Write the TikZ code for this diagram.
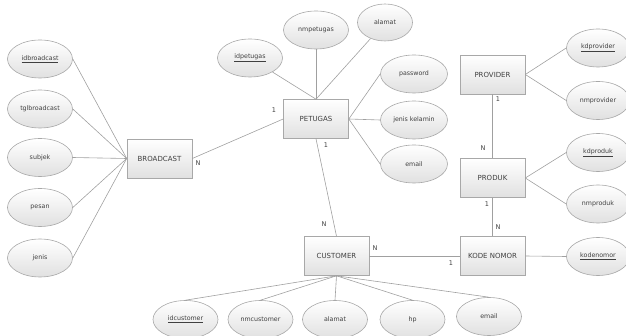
\documentclass[tikz,border=0pt]{standalone}
\usepackage{fontspec}
\setmainfont{DejaVu Sans}
\usetikzlibrary{shapes.geometric}
\definecolor{edgec}{HTML}{A8A8A8}
\definecolor{linec}{HTML}{A0A0A0}
\definecolor{txtc}{HTML}{404040}
\begin{document}
\begin{tikzpicture}[x=1pt,y=-1pt,
  entity/.style={draw=edgec, line width=0.6pt, top color=white, bottom color=black!12,
    minimum width=65pt, minimum height=39pt, inner sep=0pt, text=txtc,
    font=\fontsize{7}{8}\selectfont},
  attr/.style={ellipse, draw=edgec, line width=0.6pt, top color=white, bottom color=black!12,
    minimum width=65pt, minimum height=38pt, inner sep=0pt, text=txtc,
    font=\fontsize{6.3}{7}\selectfont},
  conn/.style={draw=linec, line width=0.6pt},
  card/.style={text=txtc, font=\fontsize{6.5}{7}\selectfont, inner sep=0pt}]
\useasboundingbox (0,0) rectangle (626,336);
% entities
\node[entity] (bc) at (159.5,158.5) {BROADCAST};
\node[entity] (pt) at (316,119) {PETUGAS};
\node[entity] (pv) at (492.5,74.5) {PROVIDER};
\node[entity] (pd) at (492.5,178) {PRODUK};
\node[entity] (kn) at (492.5,256) {KODE NOMOR};
\node[entity] (cu) at (336.5,256) {CUSTOMER};
% broadcast attributes
\node[attr] (a1) at (40,59) {\underline{idbroadcast}};
\node[attr] (a2) at (40,109) {tglbroadcast};
\node[attr] (a3) at (40,157.5) {subjek};
\node[attr] (a4) at (40,207.5) {pesan};
\node[attr] (a5) at (40,258) {jenis};
% petugas attributes
\node[attr] (p1) at (250,58) {\underline{idpetugas}};
\node[attr] (p2) at (316,30) {nmpetugas};
\node[attr, minimum width=55pt, minimum height=37pt] (p3) at (385,22.5) {alamat};
\node[attr, minimum width=67pt] (p4) at (414,74) {password};
\node[attr, minimum width=67pt] (p5) at (414,120) {jenis kelamin};
\node[attr, minimum width=67pt] (p6) at (414,164) {email};
% provider / produk / kode nomor attributes
\node[attr, minimum width=63pt] (v1) at (598,48) {\underline{kdprovider}};
\node[attr, minimum width=63pt] (v2) at (598,100.5) {nmprovider};
\node[attr, minimum width=63pt] (d1) at (598,152.5) {\underline{kdproduk}};
\node[attr, minimum width=63pt] (d2) at (598,204) {nmproduk};
\node[attr, minimum width=63pt] (k1) at (598,256.5) {\underline{kodenomor}};
% customer attributes
\node[attr] (c1) at (185.5,319.5) {\underline{idcustomer}};
\node[attr] (c2) at (260.5,319.5) {nmcustomer};
\node[attr] (c3) at (335,319.5) {alamat};
\node[attr] (c4) at (412.5,319.5) {hp};
\node[attr] (c5) at (489,316.5) {email};
% attribute connectors
\foreach \a in {a1,a2,a3,a4,a5} \draw[conn] (\a.east) -- (bc.west);
\draw[conn] (p1) -- (pt.north);
\draw[conn] (p2.south) -- (pt.north);
\draw[conn] (p3) -- (pt.north);
\foreach \a in {p4,p5,p6} \draw[conn] (\a.west) -- (pt.east);
\foreach \a in {v1,v2} \draw[conn] (\a.west) -- (pv.east);
\foreach \a in {d1,d2} \draw[conn] (\a.west) -- (pd.east);
\draw[conn] (k1.west) -- (kn.east);
\foreach \a in {c1,c2,c3,c4,c5} \draw[conn] (\a.north) -- (cu.south);
% relationships
\draw[conn] (bc.east) -- (pt.west);
\draw[conn] (pt.south) -- (cu.north);
\draw[conn] (cu.east) -- (kn.west);
\draw[conn] (pv.south) -- (pd.north);
\draw[conn] (pd.south) -- (kn.north);
% cardinalities
\node[card] (n1) at (198,163) {N};
\node[card] (n2) at (274,110) {1};
\node[card] (n3) at (326,145) {1};
\node[card] (n4) at (324,224) {N};
\node[card] (n5) at (375,248) {N};
\node[card] (n6) at (451,263) {1};
\node[card] (n7) at (498,99) {1};
\node[card] (n8) at (483,148) {N};
\node[card] (n9) at (487,204) {1};
\node[card] (n10) at (498,227) {N};
\end{tikzpicture}
\end{document}
